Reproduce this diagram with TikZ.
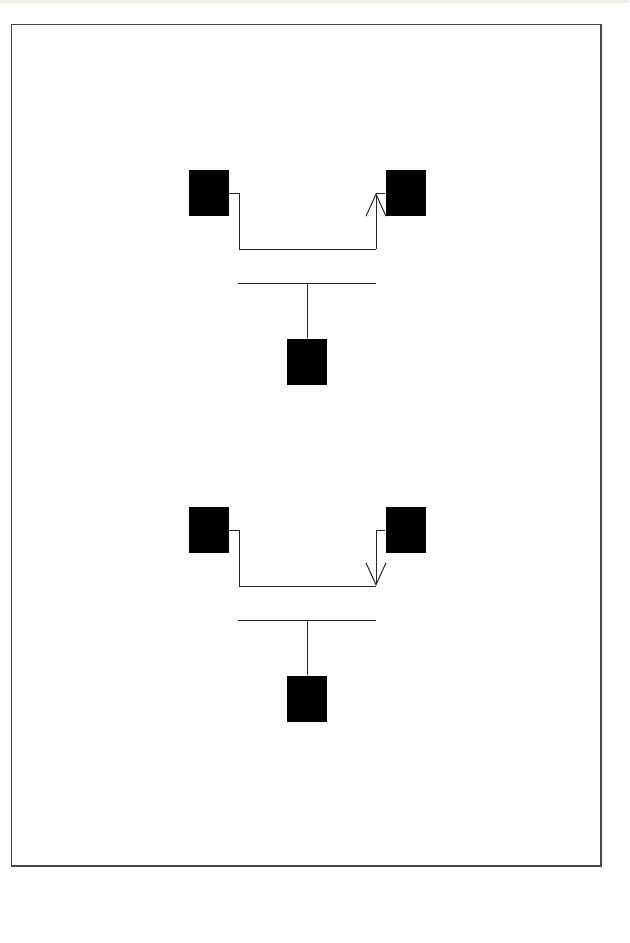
\documentclass[tikz,border=0pt]{standalone}
\usepackage{tikz}
\usetikzlibrary{arrows.meta}
\definecolor{bandgray}{RGB}{240,237,228}
\definecolor{framegray}{RGB}{70,70,70}
\tikzset{
  blk/.style={draw=none,fill=black,minimum width=20pt,minimum height=23pt,inner sep=0pt},
  wire/.style={line width=0.5pt,black!85},
  vtip/.style={-{Straight Barb[length=11pt,width=10pt]}}
}

\begin{document}
\begin{tikzpicture}[x=0.5pt,y=-0.5pt]
\useasboundingbox (0,0) rectangle (629,943);
\fill[bandgray] (0,0) rectangle (629,2.5);
\draw[framegray,line width=0.6pt] (11.5,24.5) rectangle (601,866);
% upper group
\node[blk] (l1) at (209,193) {};
\node[blk] (r1) at (405.5,193) {};
\node[blk] (b1) at (307,361.5) {};
\coordinate (c1) at (376,249);
\coordinate (busa1) at (238,283);
\coordinate (busb1) at (376,283);
\draw[wire] (l1.east) -- ++(10,0) |- (c1);
\draw[wire,vtip] (c1) -- (c1 |- r1.west);
\draw[wire] (c1 |- r1.west) -- (r1.west);
\draw[wire] (busa1) -- (busb1);
\draw[wire] (b1.north |- busa1) -- (b1.north);
% lower group
\node[blk] (l2) at (209,530) {};
\node[blk] (r2) at (405.5,530) {};
\node[blk] (b2) at (307,698.5) {};
\coordinate (c2) at (376,586);
\coordinate (busa2) at (238,620);
\coordinate (busb2) at (376,620);
\draw[wire] (l2.east) -- ++(10,0) |- (c2);
\draw[wire,vtip] (c2 |- r2.west) -- (c2);
\draw[wire] (c2 |- r2.west) -- (r2.west);
\draw[wire] (busa2) -- (busb2);
\draw[wire] (b2.north |- busa2) -- (b2.north);
\end{tikzpicture}
\end{document}
